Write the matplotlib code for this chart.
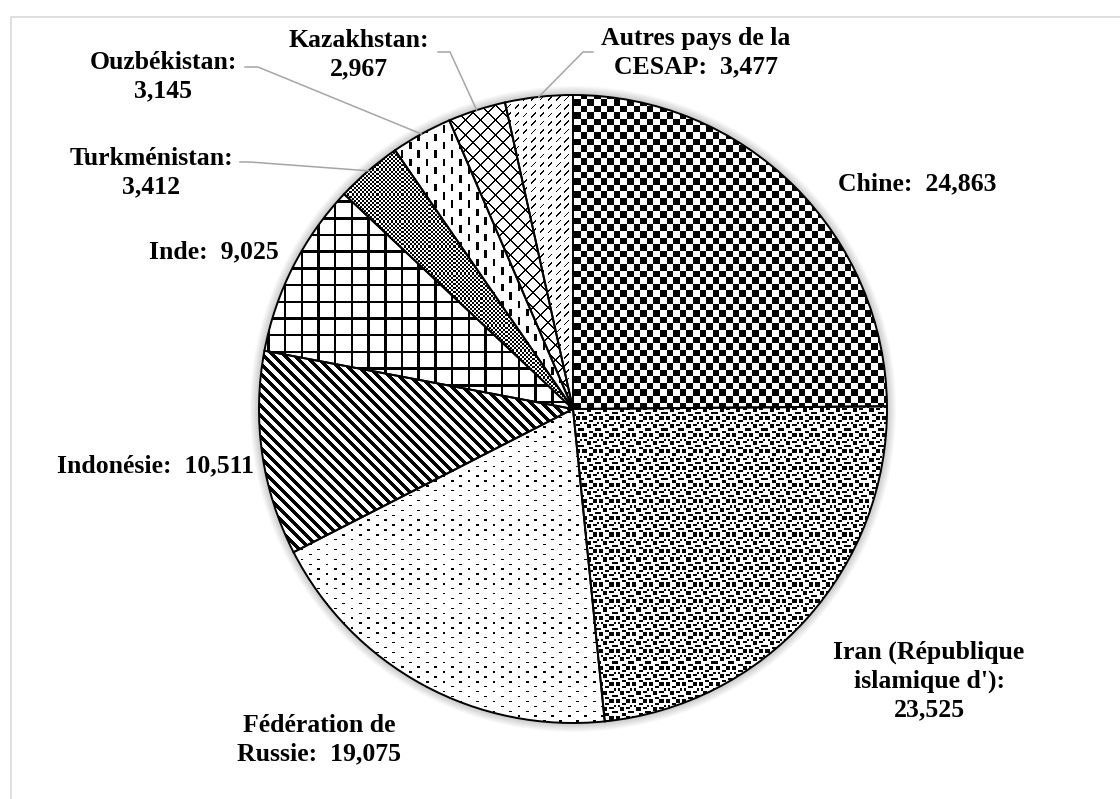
import numpy as np
import matplotlib
matplotlib.use("Agg")
import matplotlib.pyplot as plt
from matplotlib.patches import Circle

# data
names = ["Chine", "Iran (République\nislamique d')", "Fédération de\nRussie", "Indonésie",
         "Inde", "Turkménistan", "Ouzbékistan", "Kazakhstan", "Autres pays de la\nCESAP"]
values = [24863, 23525, 19075, 10511, 9025, 3412, 3145, 2967, 3477]
seps = ["  ", "\n", "  ", "  ", "  ", "\n", "\n", "\n", "  "]

# label anchors in pixels (from top-left) and horizontal alignment
label_x = [917, 929, 319, 254, 214, 151, 163, 359, 696]
label_y = [184, 681, 740, 466, 252, 173, 77, 55, 53]
label_ha = ["center", "center", "center", "right", "center",
            "center", "center", "center", "center"]
# leader lines: start near the text, then a short horizontal knee
leaders = {5: [(240, 162), (250, 162)],
           6: [(245, 67), (258, 67)],
           7: [(438, 52), (450, 52)],
           8: [(593, 52), (583, 52)]}

W, H = 1120, 799
CX, CY, R = 573, 409, 314

fig = plt.figure(figsize=(W / 100, H / 100), dpi=100)
ax = fig.add_axes([0, 0, 1, 1])

# pixel grid for the fill patterns
cols, rows = np.meshgrid(np.arange(W) + 0.5, np.arange(H) + 0.5)
s = 16.7


def pat_chine(x, r):
    return ((x // 6.6 + r // 6.6) % 2) == 0


IRAN_TILE = np.array([[c == "1" for c in row] for row in [
    "11000110",
    "11000110",
    "00011000",
    "01000001",
    "00110110",
    "00110000",
    "10000011",
    "00011000"]])


def pat_iran(x, r):
    return IRAN_TILE[(r // 2.08).astype(int) % 8, (x // 2.08).astype(int) % 8]


def pat_russie(x, r):
    row = (r // 4.9).astype(int)
    off = np.where(row % 2 == 0, 0, s / 2)
    return ((r % 4.9) < 1.4) & (((x + off) % s) < 2.8)


def pat_indo(x, r):
    return ((x - r) % 10.5) < 5


def pat_inde(x, r):
    return ((x % s) < 2.5) | ((r % s) < 2.5)


def pat_turk(x, r):
    return ((x // 2.08 + r // 2.08) % 2) == 0


def pat_ouzb(x, r):
    c = x % s
    a = (c < 2.6) & ((r % s) < 7.5)
    b = (c >= s / 2) & (c < s / 2 + 2.6) & (((r + s / 2) % s) < 7.5)
    return a | b


def pat_kaz(x, r):
    return (((x + r) % 15) < 1.6) | (((x - r) % 15) < 1.6)


def pat_autres(x, r):
    return (((x + r) % 8.3) < 1.7) & ((x % 8.3) < 4.5)


patterns = [pat_chine, pat_iran, pat_russie, pat_indo, pat_inde,
            pat_turk, pat_ouzb, pat_kaz, pat_autres]

# soft glow around the pie
for k in range(1, 10):
    ax.add_patch(Circle((CX, H - CY), R + k, color="black", alpha=0.022, lw=0, zorder=0))

wedges, _ = ax.pie(values, startangle=90, counterclock=False, radius=R,
                   center=(CX, H - CY),
                   wedgeprops=dict(facecolor="white", edgecolor="none", linewidth=0))

for w, pat in zip(wedges, patterns):
    w.set_zorder(1)
    img = np.where(pat(cols, rows), 0.0, 1.0)
    im = ax.imshow(img, cmap="gray", vmin=0, vmax=1, extent=(0, W, 0, H),
                   origin="upper", interpolation="nearest", zorder=2)
    im.set_clip_path(w)

# wedge borders on top
edges, _ = ax.pie(values, startangle=90, counterclock=False, radius=R,
                  center=(CX, H - CY),
                  wedgeprops=dict(facecolor="none", edgecolor="black", linewidth=1.4))
for e in edges:
    e.set_zorder(3)

font = dict(family="Liberation Serif", weight="bold", size=18.5)
for i, (n, v, sp) in enumerate(zip(names, values, seps)):
    ax.text(label_x[i], H - label_y[i], f"{n}:{sp}{v:,}", ha=label_ha[i], va="center",
            multialignment="center", linespacing=1.3, zorder=5, **font)

for i, pts in leaders.items():
    w = wedges[i]
    mid = np.deg2rad((w.theta1 + w.theta2) / 2)
    ex = CX + R * np.cos(mid)
    ey = (H - CY) + R * np.sin(mid)
    xs = [p[0] for p in pts] + [ex]
    ys = [H - p[1] for p in pts] + [ey]
    ax.plot(xs, ys, color="#a6a6a6", lw=1.1, zorder=4)

# chart area frame
ax.plot([11, 11, W], [0, H - 17, H - 17], color="#d9d9d9", lw=1.2, zorder=1)

ax.set_xlim(0, W)
ax.set_ylim(0, H)
ax.set_aspect("equal")
ax.axis("off")

fig.savefig("out.png", dpi=100, facecolor="white")
